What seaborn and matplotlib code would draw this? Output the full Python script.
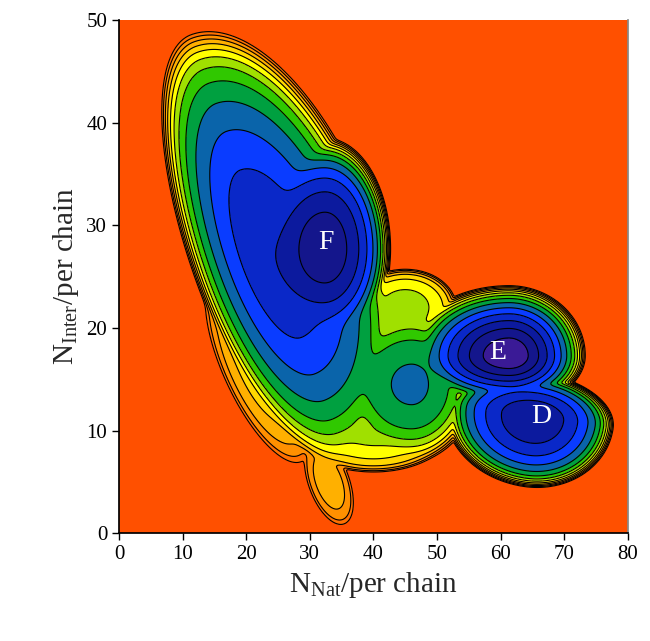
import numpy as np
import matplotlib
matplotlib.use("Agg")
import matplotlib.pyplot as plt
import seaborn as sns

# Free-energy basins.  Centre in data units; semi-axes (x units, with y stretched
# by the axes aspect) on the +/- side of the rotated axis and of its normal, at
# which each well reaches the cut-off; rotation in screen degrees; depth; power of
# the inner profile and weight of the steep outer wall.
well_name  = ['E', 'D', 'F core', 'F broad', 'islet', 'bridge', 'lower rim',
              'saddle', 'skirt', 'tail']
well_x     = [61.3, 65.3, 32.4, 24.0, 15.9, 46.0, 40.0, 45.0, 22.0, 33.0]
well_y     = [17.3, 11.3, 27.7, 27.0, 36.5, 14.5, 10.0, 22.0, 16.0, 5.0]
well_apos  = [12.0, 12.5, 10.3, 35.0, 1.6, 10.0, 12.0, 8.0, 16.0, 7.0]
well_aneg  = [16.0, 14.0, 12.0, 37.0, 1.6, 12.0, 12.0, 8.0, 16.0, 7.0]
well_bpos  = [11.0, 7.0, 17.4, 17.0, 3.5, 12.0, 6.0, 6.0, 6.0, 3.2]
well_bneg  = [8.0, 11.0, 16.0, 12.5, 3.5, 12.0, 6.5, 7.0, 5.5, 3.2]
well_angle = [0, -8, 0, -70, 0, 0, 0, 0, -65, -70]
well_depth = [0.0, 1.05, 0.7, 1.55, 2.3, 2.95, 4.2, 4.2, 4.8, 5.6]
well_power = [1.6, 1.9, 2.2, 2.0, 2.0, 3.0, 1.5, 2.0, 1.3, 2.0]
well_wall  = [0.35, 0.5, 0.45, 0.45, 0.0, 0.3, 0.5, 0.5, 0.3, 0.3]

cutoff = 7.0
level_step = 0.5
band_colors = ['#3a1a96', '#14168c', '#0c1a9e', '#0a28c8', '#0a3cff', '#0a64aa',
               '#00a040', '#30c800', '#a0e000', '#ffff00', '#ffd800', '#ffb000',
               '#ff9000', '#ff7000']
background = '#ff5000'

basin_labels = ['F', 'E', 'D']
basin_lx = [32.5, 59.6, 66.4]
basin_ly = [28.3, 17.6, 11.4]

x_ticks = list(range(0, 81, 10))
y_ticks = list(range(0, 51, 10))

aspect = 10.26 / 6.36   # screen length of one y unit in x units

xg = np.linspace(0, 80, 641)
yg = np.linspace(0, 50, 401)
X, Y = np.meshgrid(xg, yg)

tau = 0.3
acc = np.zeros_like(X)
for x0, y0, ap, an, bp, bn, ang, g0, p, c in zip(
        well_x, well_y, well_apos, well_aneg, well_bpos, well_bneg,
        well_angle, well_depth, well_power, well_wall):
    t = np.deg2rad(ang)
    dx, dy = X - x0, (Y - y0) * aspect
    u = dx * np.cos(t) + dy * np.sin(t)
    v = -dx * np.sin(t) + dy * np.cos(t)
    a = np.where(u >= 0, ap, an)
    b = np.where(v >= 0, bp, bn)
    r = np.sqrt((u / a) ** 2 + (v / b) ** 2)
    g = g0 + (cutoff - g0) * ((1 - c) * r ** p + c * r ** 12)
    acc += np.exp(-np.minimum(g, 60) / tau)
G = -tau * np.log(acc + 1e-300)
G -= G.min()

sns.set_theme(style="ticks")
plt.rcParams['font.family'] = ['Liberation Serif', 'DejaVu Serif']
plt.rcParams['mathtext.fontset'] = 'custom'
plt.rcParams['mathtext.rm'] = 'Liberation Serif'
plt.rcParams['mathtext.it'] = 'Liberation Serif:italic'

fig = plt.figure(figsize=(6.5, 6.41), dpi=100)
ax = fig.add_axes([0.183, 0.168, 0.783, 0.801])
ax.set_facecolor(background)

levels = [level_step * k for k in range(len(band_colors) + 1)]
ax.contourf(X, Y, G, levels=levels, colors=band_colors)
ax.contour(X, Y, G, levels=levels[1:], colors='black', linewidths=0.8)

for lab, lx, ly in zip(basin_labels, basin_lx, basin_ly):
    ax.text(lx, ly, lab, color='white', fontsize=20, ha='center', va='center')

ax.set_xlim(0, 80)
ax.set_ylim(0, 50)
ax.set_xticks(x_ticks)
ax.set_yticks(y_ticks)
ax.tick_params(direction='out', length=5, width=1, labelsize=15, colors='black')
ax.set_xlabel(r'N$_{\mathrm{Nat}}$/per chain', fontsize=21)
ax.set_ylabel(r'N$_{\mathrm{Inter}}$/per chain', fontsize=21)
for side in ['left', 'bottom']:
    ax.spines[side].set_color('black')
ax.spines['top'].set_visible(False)
ax.spines['right'].set_color('#888888')

fig.savefig('out.png', dpi=100)
